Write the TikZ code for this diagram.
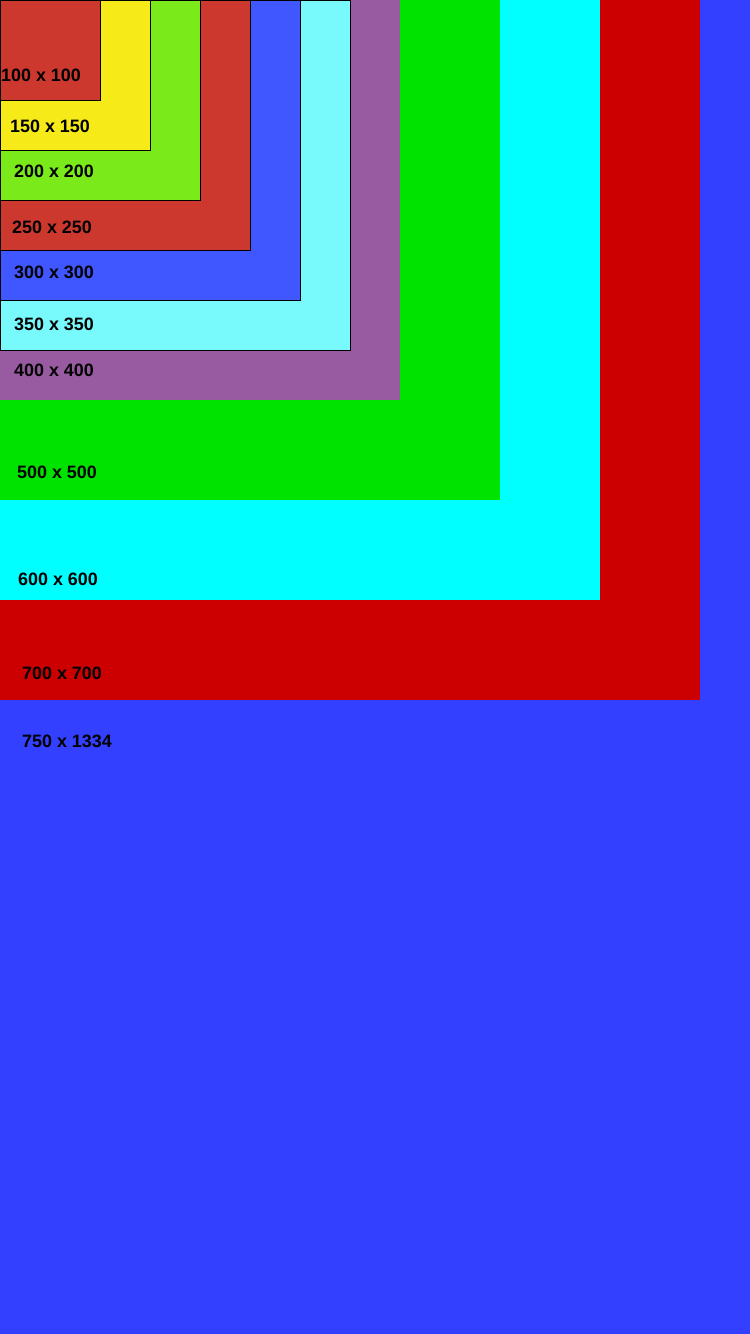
\documentclass[tikz,border=0pt]{standalone}
\usepackage{fontspec}
\setmainfont{Liberation Sans}
\definecolor{cRedA}{RGB}{204,56,46}
\definecolor{cYellow}{RGB}{246,234,24}
\definecolor{cLime}{RGB}{122,234,26}
\definecolor{cBlueA}{RGB}{64,86,255}
\definecolor{cCyanA}{RGB}{120,250,252}
\definecolor{cPurple}{RGB}{152,90,160}
\definecolor{cGreen}{RGB}{0,226,0}
\definecolor{cCyan}{RGB}{0,255,255}
\definecolor{cRed}{RGB}{204,0,0}
\definecolor{cBlue}{RGB}{51,64,255}
\tikzset{
  box/.style={anchor=north west, inner sep=0pt, outer sep=0pt, minimum width=#1pt, minimum height=#1pt},
  edged/.style={draw=black, line width=1pt},
  lbl/.style={anchor=west, inner sep=0pt, font=\bfseries\fontsize{17.9pt}{20pt}\selectfont, text=black}
}
\begin{document}
\begin{tikzpicture}[x=1pt,y=-1pt]
\useasboundingbox (0,0) rectangle (750,1334);
\node[fill=cBlue, anchor=north west, inner sep=0pt, minimum width=750pt, minimum height=1334pt] (b750) at (0,0) {};
\node[box=700, fill=cRed] (b700) at (0,0) {};
\node[box=600, fill=cCyan] (b600) at (0,0) {};
\node[box=500, fill=cGreen] (b500) at (0,0) {};
\node[box=400, fill=cPurple] (b400) at (0,0) {};
\node[box=350, fill=cCyanA, edged] (b350) at (0,0) {};
\node[box=300, fill=cBlueA, edged] (b300) at (0,0) {};
\node[box=250, fill=cRedA, edged] (b250) at (0,0) {};
\node[box=200, fill=cLime, edged] (b200) at (0,0) {};
\node[box=150, fill=cYellow, edged] (b150) at (0,0) {};
\node[box=100, fill=cRedA, edged] (b100) at (0,0) {};
\node[lbl] (t100) at (1,75) {100 x 100};
\node[lbl] (t150) at (10,126) {150 x 150};
\node[lbl] (t200) at (14,171) {200 x 200};
\node[lbl] (t250) at (12,227) {250 x 250};
\node[lbl] (t300) at (14,272) {300 x 300};
\node[lbl] (t350) at (14,324) {350 x 350};
\node[lbl] (t400) at (14,370) {400 x 400};
\node[lbl] (t500) at (17,472) {500 x 500};
\node[lbl] (t600) at (18,579) {600 x 600};
\node[lbl] (t700) at (22,673) {700 x 700};
\node[lbl] (t750) at (22,741) {750 x 1334};
\end{tikzpicture}
\end{document}
